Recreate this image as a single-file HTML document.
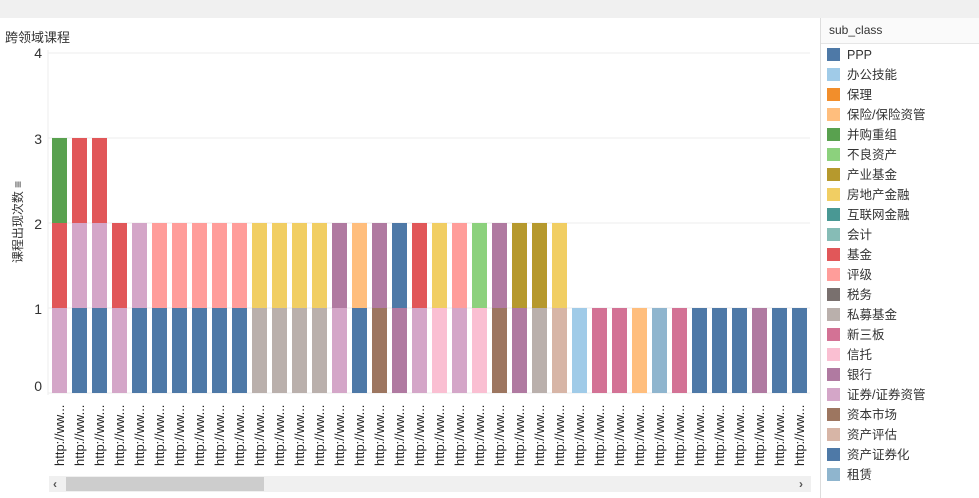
<!DOCTYPE html>
<html><head><meta charset="utf-8"><style>
body{margin:0;width:979px;height:498px;overflow:hidden;background:#fff;font-family:"Liberation Sans","Noto Sans CJK SC",sans-serif;position:relative}
#topbar{position:absolute;left:0;top:0;width:979px;height:18px;background:#f0f0f0}
#title{position:absolute;left:5px;top:27px;font-size:13px;color:#333}
#legend{position:absolute;left:820px;top:18px;width:159px;height:480px;border-left:1px solid #ddd}
#legend .hd{height:25px;line-height:25px;padding-left:8px;font-size:12px;color:#333;background:#fafafa;border-bottom:1px solid #e6e6e6}
.li{position:absolute;left:6px;height:20px;font-size:12.5px;color:#333;line-height:16px}
.li span{display:inline-block;width:13px;height:13px;margin-right:7px;vertical-align:-2px}
</style></head><body>
<div id="topbar"></div>
<div id="title">跨领域课程</div>
<svg id="chart" width="815" height="498" style="position:absolute;left:0;top:0"></svg>
<div id="legend"><div class="hd">sub_class</div></div>
<script>
const categories=["PPP","办公技能","保理","保险/保险资管","并购重组","不良资产","产业基金","房地产金融","互联网金融","会计","基金","评级","税务","私募基金","新三板","信托","银行","证券/证券资管","资本市场","资产评估","资产证券化","租赁"];
const colors=["#4e79a7","#a0cbe8","#f28e2b","#ffbe7d","#59a14f","#8cd17d","#b6992d","#f1ce63","#499894","#86bcb6","#e15759","#ff9d9a","#79706e","#bab0ac","#d37295","#fabfd2","#b07aa1","#d4a6c8","#9d7660","#d7b5a6","#4e79a7","#8fb5ce"];
const stacks=[
["证券/证券资管","基金","并购重组"],["PPP","证券/证券资管","基金"],["PPP","证券/证券资管","基金"],
["证券/证券资管","基金"],["PPP","证券/证券资管"],
["PPP","评级"],["PPP","评级"],["PPP","评级"],["PPP","评级"],["PPP","评级"],
["私募基金","房地产金融"],["私募基金","房地产金融"],["私募基金","房地产金融"],["私募基金","房地产金融"],
["证券/证券资管","银行"],["PPP","保险/保险资管"],["资本市场","银行"],["银行","PPP"],
["证券/证券资管","基金"],["信托","房地产金融"],["证券/证券资管","评级"],["信托","不良资产"],
["资本市场","银行"],["银行","产业基金"],["私募基金","产业基金"],["资产评估","房地产金融"],
["办公技能"],["新三板"],["新三板"],["保险/保险资管"],["租赁"],["新三板"],
["PPP"],["PPP"],["PPP"],["银行"],["PPP"],["PPP"]];
const yTicks=[0,1,2,3,4];
const NS="http://www.w3.org/2000/svg";
const svg=document.getElementById('chart');
const y=v=>393-v*85;
const x=i=>52+i*20;
function mk(t,a){const e=document.createElementNS(NS,t);for(const k in a)e.setAttribute(k,a[k]);svg.appendChild(e);return e;}
yTicks.forEach(t=>{
 const g=mk('line',{x1:48,x2:810,y1:y(t),y2:y(t),stroke:'#eee'});
 
 
 const l=mk('text',{x:42,y:y(t)+(t==4?5:(t==0?-2:6)),'text-anchor':'end','font-size':14,fill:'#333'});
 l.textContent=t;
 
 
});
mk('line',{x1:48,x2:48,y1:50,y2:395,stroke:'#eee'});
const yt=mk('text',{transform:'translate(22,222) rotate(-90)','text-anchor':'middle','font-size':12,fill:'#333'});
yt.textContent='课程出现次数 ≡';


stacks.forEach((s,i)=>{
 s.forEach((c,j)=>{
  const r=mk('rect',{x:x(i),y:y(j+1),width:15,height:85,fill:colors[categories.indexOf(c)]});
  
  
 });
 const t=mk('text',{transform:`translate(${x(i)+12},466) rotate(-90)`,'font-size':13,fill:'#222'});
 t.textContent='http://ww...';
 
 
});
const sb=mk('rect',{x:49,y:476,width:762,height:16,fill:'#f0f0f0'});


const th=mk('rect',{x:66,y:477,width:198,height:14,fill:'#cdcdcd'});


const la=mk('text',{x:53,y:488,'font-size':12,fill:'#555','font-weight':'bold'});la.textContent='‹';


const ra=mk('text',{x:799,y:488,'font-size':12,fill:'#555','font-weight':'bold'});ra.textContent='›';


const lg=document.getElementById('legend');
categories.forEach((c,i)=>{
 const d=document.createElement('div');d.className='li';d.style.top=(29+i*20)+'px';
 d.innerHTML=`<span style="background:${colors[i]}"></span>${c}`;
 
 
 lg.appendChild(d);
});
</script>
</body></html>
